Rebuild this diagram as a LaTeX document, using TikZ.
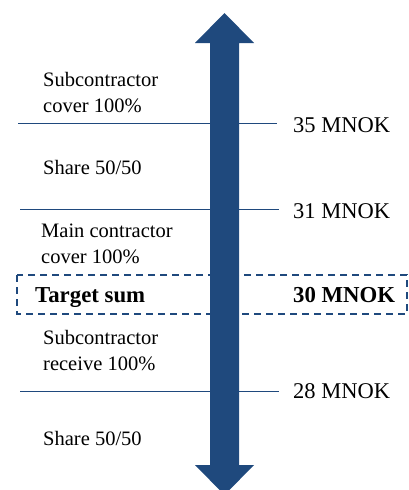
\documentclass[tikz,border=0pt]{standalone}
\usepackage{fontspec}
\setmainfont{Liberation Serif}
\definecolor{navy}{HTML}{1F497D}
\begin{document}
\begin{tikzpicture}[x=1pt,y=-1pt,
  lbl/.style={anchor=base west,inner sep=0pt,align=left,font=\fontsize{20.5}{25.5}\selectfont},
  val/.style={anchor=base west,inner sep=0pt,font=\fontsize{22.5}{27}\selectfont},
  bval/.style={anchor=base west,inner sep=0pt,font=\fontsize{22.8}{27}\selectfont\bfseries},
  level/.style={draw=navy,line width=0.9pt},
  dashbox/.style={draw=navy,line width=2pt,dash pattern=on 7pt off 5pt}]
\useasboundingbox (0,0) rectangle (409,490);
% level lines
\draw[level] (18,123) -- (277,123);
\draw[level] (20,209) -- (279,209);
\draw[level] (20,391) -- (279,391);
% dashed target box
\draw[dashbox] (17,275) rectangle (407,314);
% arrow
\fill[navy] (224.5,13) -- (254,43) -- (239,43) -- (239,465) -- (254,465) -- (224.5,495)
  -- (195,465) -- (210,465) -- (210,43) -- (195,43) -- cycle;
% labels
\node[lbl] (a) at (43,112) {Subcontractor\\cover 100\%};
\node[lbl] (b) at (43,174) {Share 50/50};
\node[lbl] (c) at (41,263) {Main contractor\\cover 100\%};
\node[bval] (t) at (35,302) {Target sum};
\node[lbl] (d) at (43,370) {Subcontractor\\receive 100\%};
\node[lbl] (e) at (43,445) {Share 50/50};
\node[val] (v35) at (293,132) {35 MNOK};
\node[val] (v31) at (293,218) {31 MNOK};
\node[bval] (v30) at (293,302) {30 MNOK};
\node[val] (v28) at (293,398) {28 MNOK};
\end{tikzpicture}
\end{document}
